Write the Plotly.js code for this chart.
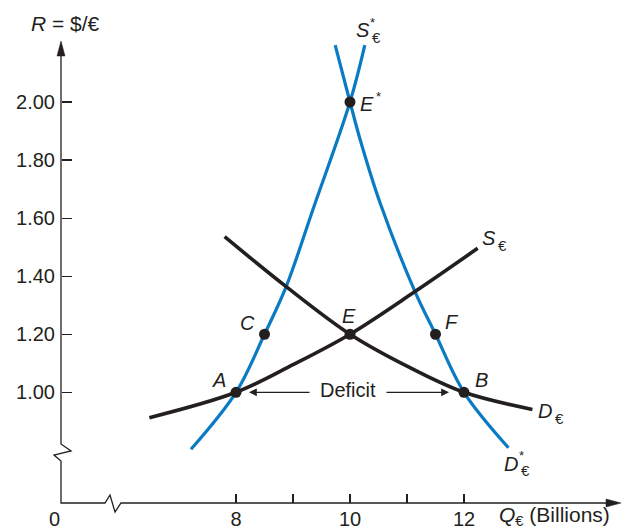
<!DOCTYPE html>
<html><head><meta charset="utf-8">
<script src="https://cdn.plot.ly/plotly-3.0.1.min.js"></script>
<style>html,body{margin:0;padding:0;background:#fff}#chart{width:621px;height:529px}</style>
</head><body><div id="chart"></div>
<script>
// ---- data ----
const supplyEurX = [6.48, 8.0, 9.0, 10.0, 11.14, 12.24];
const supplyEurY = [0.9125, 1.0, 1.095, 1.2, 1.347, 1.496];
const demandEurX = [7.8, 8.88, 10.0, 11.0, 12.0, 13.2];
const demandEurY = [1.536, 1.364, 1.2, 1.09, 1.0, 0.941];
const supplyStarX = [7.21, 8.0, 8.5, 8.88, 9.35, 10.0, 10.26];
const supplyStarY = [0.804, 1.0, 1.2, 1.364, 1.63, 2.0, 2.196];
const demandStarX = [9.74, 10.0, 10.18, 10.53, 11.14, 11.5, 12.0, 12.78];
const demandStarY = [2.196, 2.0, 1.869, 1.651, 1.347, 1.2, 1.0, 0.809];
const pointLabels = ['A', 'C', 'E', 'F', 'B', 'E*'];
const pointX = [8, 8.5, 10, 11.5, 12, 10];
const pointY = [1.0, 1.2, 1.2, 1.2, 1.0, 2.0];
const yTickVals = [1.0, 1.2, 1.4, 1.6, 1.8, 2.0];
const yTickText = ['1.00', '1.20', '1.40', '1.60', '1.80', '2.00'];
const xTickVals = [8, 9, 10, 11, 12];
const xTickText = ['8', '', '10', '', '12'];

// ---- styling ----
const W = 621, H = 529;
const FONT = 'Liberation Sans, Arial, Helvetica, sans-serif';
const INK = '#231f20';
const BLUE = '#0a7bc2';
const px = p => p / W;
const py = p => 1 - p / H;
const last = a => a[a.length - 1];

const traces = [
  {x: supplyStarX, y: supplyStarY, mode: 'lines', line: {color: BLUE, width: 3.2, shape: 'spline', smoothing: 1}, hoverinfo: 'skip'},
  {x: demandStarX, y: demandStarY, mode: 'lines', line: {color: BLUE, width: 3.2, shape: 'spline', smoothing: 1}, hoverinfo: 'skip'},
  {x: supplyEurX, y: supplyEurY, mode: 'lines', line: {color: INK, width: 3.6, shape: 'spline', smoothing: 1}, hoverinfo: 'skip'},
  {x: demandEurX, y: demandEurY, mode: 'lines', line: {color: INK, width: 3.6, shape: 'spline', smoothing: 1}, hoverinfo: 'skip'},
  {x: pointX, y: pointY, mode: 'markers', marker: {color: INK, size: 11}, hoverinfo: 'skip'}
];

const ann = [];
function letter(txt, x, y, dx, dy, opts) {
  ann.push(Object.assign({x: x, y: y, xref: 'x', yref: 'y', text: txt, showarrow: false,
    xshift: dx, yshift: dy, font: {family: FONT, size: 20, color: INK}}, opts || {}));
}
function curveLabel(base, star, x, y, dx, dy) {
  letter('<i>' + base + '</i>', x, y, dx, dy);
  if (star) letter('*', x, y, dx + 10, dy + 8, {font: {family: FONT, size: 13, color: INK}});
  letter('€', x, y, dx + 14, dy - 7, {font: {family: FONT, size: 15, color: INK}});
}

// point labels
const pointOffsets = {A: [-17, 12], C: [-17, 11], E: [-1, 18], F: [16, 12], B: [17, 12], 'E*': [17, -2]};
pointLabels.forEach((lab, i) => {
  const o = pointOffsets[lab];
  letter('<i>' + lab.replace('*', '') + '</i>', pointX[i], pointY[i], o[0], o[1]);
  if (lab.indexOf('*') >= 0) letter('*', pointX[i], pointY[i], o[0] + 11, o[1] + 8, {font: {family: FONT, size: 13, color: INK}});
});

// curve labels
curveLabel('S', true, last(supplyStarX), last(supplyStarY), -2, 15);
curveLabel('S', false, last(supplyEurX), last(supplyEurY), 11, 10);
curveLabel('D', false, last(demandEurX), last(demandEurY), 13, -2);
curveLabel('D', true, last(demandStarX), last(demandStarY), 3, -16);

// deficit
const mid = (pointX[0] + pointX[4]) / 2;
ann.push({x: mid, y: pointY[0], xref: 'x', yref: 'y', text: 'Deficit', showarrow: false, yshift: 2, xshift: -2,
  font: {family: FONT, size: 20, color: INK}});
ann.push({x: pointX[0], y: pointY[0], xref: 'x', yref: 'y', text: ' ', showarrow: true, ax: 78, ay: 0,
  arrowhead: 2, arrowsize: 1.3, arrowwidth: 1.2, arrowcolor: INK, standoff: 13});
ann.push({x: pointX[4], y: pointY[4], xref: 'x', yref: 'y', text: ' ', showarrow: true, ax: -82, ay: 0,
  arrowhead: 2, arrowsize: 1.3, arrowwidth: 1.2, arrowcolor: INK, standoff: 15});

// axis titles
ann.push({xref: 'paper', yref: 'paper', x: px(29), y: py(24), xanchor: 'left', yanchor: 'middle', showarrow: false,
  text: '<i>R</i> = $/€', font: {family: FONT, size: 21, color: INK}});
ann.push({xref: 'paper', yref: 'paper', x: px(497), y: py(516), xanchor: 'left', yanchor: 'middle', showarrow: false,
  text: '<i>Q</i><sub>€</sub> (Billions)', font: {family: FONT, size: 21, color: INK}});
ann.push({xref: 'paper', yref: 'paper', x: px(54), y: py(519), xanchor: 'center', yanchor: 'middle', showarrow: false,
  text: '0', font: {family: FONT, size: 20, color: INK}});

// axes drawn with breaks
const P = (a, b) => px(a).toFixed(5) + ',' + py(b).toFixed(5);
const axisPath = 'M' + P(61, 52) + ' L' + P(61, 444) + ' L' + P(71, 451) + ' L' + P(54, 455) + ' L' + P(61, 461) +
  ' L' + P(61, 503) + ' L' + P(105, 503) + ' L' + P(110, 495) + ' L' + P(115, 512) + ' L' + P(121, 503) + ' L' + P(612, 503);
const shapes = [
  {type: 'path', xref: 'paper', yref: 'paper', path: axisPath, line: {color: INK, width: 1.3}},
  {type: 'path', xref: 'paper', yref: 'paper', path: 'M' + P(61, 41) + ' L' + P(65, 56) + ' L' + P(57, 56) + ' Z',
    fillcolor: INK, line: {color: INK, width: 0.5}},
  {type: 'path', xref: 'paper', yref: 'paper', path: 'M' + P(621, 503) + ' L' + P(606, 499) + ' L' + P(606, 507) + ' Z',
    fillcolor: INK, line: {color: INK, width: 0.5}}
];

const layout = {
  width: W, height: H, margin: {l: 0, r: 0, t: 0, b: 0, pad: 0},
  paper_bgcolor: '#fff', plot_bgcolor: 'rgba(0,0,0,0)', showlegend: false,
  font: {family: FONT, size: 20, color: INK},
  xaxis: {range: [10 - 350 / 57, 10 + 271 / 57], anchor: 'free', position: 1 - 503 / H,
    showgrid: false, zeroline: false, showline: false, ticks: 'inside', ticklen: 9, tickwidth: 1.2, tickcolor: INK,
    tickvals: xTickVals, ticktext: xTickText, tickfont: {family: FONT, size: 20, color: INK}, ticklabelstandoff: 2, fixedrange: true},
  yaxis: {range: [1 - (529 - 392.3) / 290.3, 1 + 392.3 / 290.3], anchor: 'free', position: 61 / W,
    showgrid: false, zeroline: false, showline: false, ticks: 'inside', ticklen: 10, tickwidth: 1.2, tickcolor: INK,
    tickvals: yTickVals, ticktext: yTickText, tickfont: {family: FONT, size: 20, color: INK}, ticklabelstandoff: 6, fixedrange: true},
  shapes: shapes,
  annotations: ann
};

Plotly.newPlot('chart', traces, layout, {staticPlot: true, displayModeBar: false});
</script></body></html>
